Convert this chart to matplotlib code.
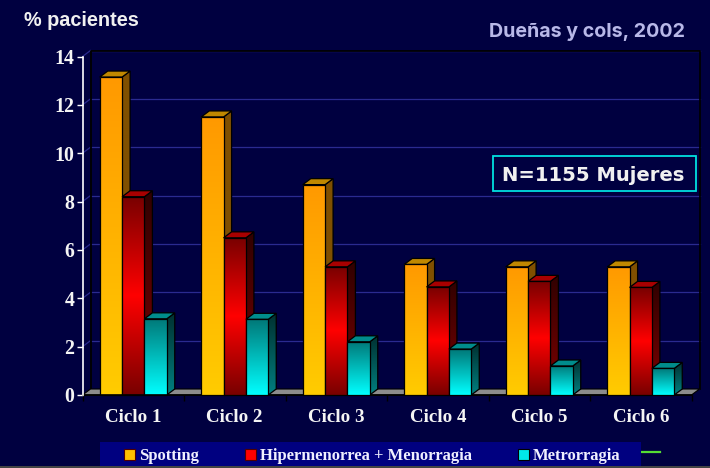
import numpy as np
import matplotlib
matplotlib.use("Agg")
import matplotlib.pyplot as plt
from matplotlib.patches import Polygon, Rectangle, Patch
from matplotlib.lines import Line2D
from matplotlib.colors import LinearSegmentedColormap as LSC

categories = ["Ciclo 1", "Ciclo 2", "Ciclo 3", "Ciclo 4", "Ciclo 5", "Ciclo 6"]
spotting = [13.15, 11.5, 8.7, 5.4, 5.3, 5.3]
hiper = [8.2, 6.5, 5.3, 4.47, 4.7, 4.45]
metro = [3.15, 3.13, 2.2, 1.9, 1.2, 1.1]
series_names = ["Spotting", "Hipermenorrea + Menorragia", "Metrorragia"]
y_ticks = [0, 2, 4, 6, 8, 10, 12, 14]

W, H = 710, 468
BG = "#000040"
fig = plt.figure(figsize=(W / 100, H / 100), dpi=100, facecolor=BG)
px = lambda x0, y0, w, h: [x0 / W, 1 - (y0 + h) / H, w / W, h / H]
ax = fig.add_axes(px(82.5, 56.5, 609, 338.5))
ax.set_facecolor("none")

DX = 8 / 101.5
DY = 6 / 24.18
BW = 0.22

# back wall, grid and floor
for v in y_ticks[1:]:
    ax.plot([0, DX], [v, v + DY], color="#2a2a90", lw=0.9, clip_on=False, zorder=1)
    ax.plot([DX, 6 + DX], [v + DY, v + DY], color="#2a2a90", lw=0.9, clip_on=False, zorder=1)
ax.plot([DX, DX, 6 + DX, 6 + DX], [DY, 14 + DY, 14 + DY, DY], color="black", lw=1.3,
        clip_on=False, zorder=1.5)
ax.add_patch(Polygon([(0, 0), (DX, DY), (6 + DX, DY), (6, 0)], closed=True, fc="#8c8c8c",
                     ec="black", lw=0.8, clip_on=False, zorder=1.6))

cm_o = LSC.from_list("o", ["#FFCC00", "#FF9900"])
cm_r = LSC.from_list("r", ["#780000", "#FF0000", "#780000"])
cm_c = LSC.from_list("c", ["#00FFFF", "#007878"])
cm_os = LSC.from_list("os", ["#805000", "#805000"])
cm_rs = LSC.from_list("rs", ["#800000", "#300000"])
cm_cs = LSC.from_list("cs", ["#008080", "#003030"])
grad = np.linspace(0, 1, 256).reshape(-1, 1)


def shade(poly_pts, cmap, x0, x1, y0, y1, z):
    poly = Polygon(poly_pts, closed=True, fc="none", ec="none", transform=ax.transData)
    ax.add_patch(poly)
    im = ax.imshow(grad, cmap=cmap, origin="lower", extent=(x0, x1, y0, y1),
                   aspect="auto", zorder=z, interpolation="bilinear")
    im.set_clip_path(poly)
    ax.add_patch(Polygon(poly_pts, closed=True, fc="none", ec="black", lw=0.9,
                         clip_on=False, zorder=z + 0.001))


def bar3d(x, v, front, side, top, z):
    pts_side = [(x + BW, 0), (x + BW + DX, DY), (x + BW + DX, v + DY), (x + BW, v)]
    shade(pts_side, side, x + BW, x + BW + DX, 0, v + DY, z)
    ax.add_patch(Polygon([(x, v), (x + DX, v + DY), (x + BW + DX, v + DY), (x + BW, v)],
                         closed=True, fc=top, ec="black", lw=0.9, clip_on=False, zorder=z + 0.01))
    shade([(x, 0), (x + BW, 0), (x + BW, v), (x, v)], front, x, x + BW, 0, v, z + 0.02)


for i in range(len(categories)):
    g = i + 0.17
    bar3d(g, spotting[i], cm_o, cm_os, "#C08800", 2 + i)
    bar3d(g + BW, hiper[i], cm_r, cm_rs, "#A80000", 2.2 + i)
    bar3d(g + 2 * BW, metro[i], cm_c, cm_cs, "#008C8C", 2.4 + i)

ax.set_xlim(0, 6)
ax.set_ylim(0, 14)
for s in ("top", "right"):
    ax.spines[s].set_visible(False)
ax.spines["left"].set_color("white")
ax.spines["left"].set_linewidth(1.2)
ax.spines["bottom"].set_color("black")
ax.spines["bottom"].set_linewidth(1.2)
ax.spines["left"].set_zorder(20)

serif = "Liberation Serif"
sans = "Liberation Sans"
ax.set_yticks(y_ticks)
ax.set_yticklabels([str(v) for v in y_ticks], family=serif, weight="bold", fontsize=14.3,
                   color="#f4f4f4")
ax.tick_params(axis="y", color="white", length=4, width=1, pad=2)
ax.set_xticks(np.arange(0, 7))
ax.set_xticklabels([])
ax.tick_params(axis="x", which="major", color="black", length=4, width=1)
ax.set_xticks(np.arange(6) + 0.5, minor=True)
ax.set_xticklabels(categories, minor=True, family=serif, weight="bold", fontsize=13.7,
                   color="#f4f4f4")
ax.tick_params(axis="x", which="minor", length=0, pad=10)

fig.text(24 / W, 1 - 21 / H, "% pacientes", family=sans, weight="bold", fontsize=14.3,
         color="#F0F0F0", va="center", ha="left")
fig.text(685 / W, 1 - 32 / H, "Dueñas y cols, 2002", family="Inter", weight="bold", fontsize=14.15,
         color="#B8B8E8", va="center", ha="right")

fig.add_artist(Rectangle((493 / W, 1 - 191 / H), 203 / W, 35 / H, transform=fig.transFigure,
                         fc=BG, ec="#00E0E0", lw=1.3, zorder=30))
t = fig.text(593.5 / W, 1 - 175.5 / H, "N=1155 Mujeres", family="DejaVu Sans", weight="bold",
             fontsize=14.1, color="#F0F0F0", va="center", ha="center", zorder=31)

# legend band
fig.add_artist(Rectangle((100 / W, 1 - 466 / H), 541 / W, 24 / H, transform=fig.transFigure,
                         fc="#000080", ec="none", zorder=5))
handles = [Patch(fc="#FFC000", ec="#500000", lw=0.8),
           Patch(fc="#FF0000", ec="#500000", lw=0.8),
           Patch(fc="#00E8E8", ec="black", lw=0.8)]
FS = 12.0
em = FS * 100 / 72
leg = fig.legend(handles, series_names, ncol=3, loc="lower left",
                 bbox_to_anchor=(124 / W, 1 - 464 / H), bbox_transform=fig.transFigure,
                 borderaxespad=0, frameon=False,
                 prop={"family": serif, "weight": "bold", "size": FS},
                 labelcolor="#F0F0FF", handlelength=11 / em, handleheight=11 / em,
                 handletextpad=4 / em, columnspacing=46 / em, borderpad=0)
leg.set_zorder(6)
fig.add_artist(Line2D([642 / W, 660 / W], [1 - 452 / H] * 2, color="#55DD33", lw=1.6,
                      transform=fig.transFigure))
fig.add_artist(Rectangle((0, 0), 1, 2 / H, transform=fig.transFigure, fc="#444444", ec="none"))

fig.canvas.draw()
fig.savefig("out.png", dpi=100, facecolor=BG)
